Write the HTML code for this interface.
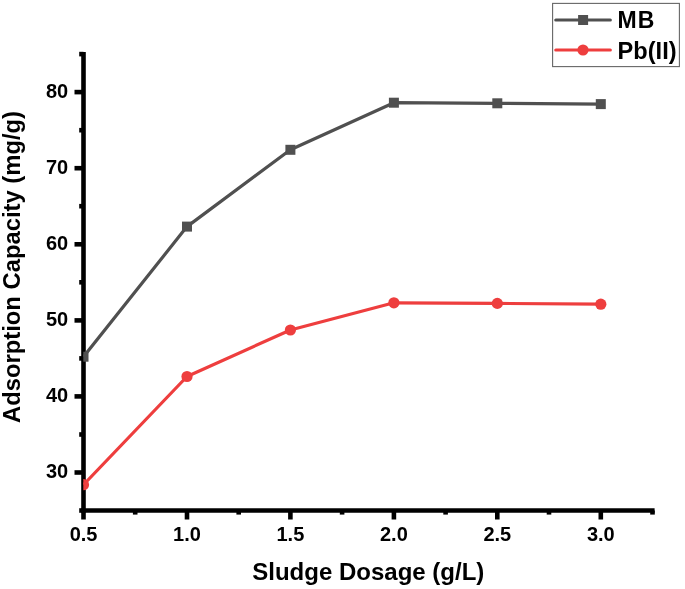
<!DOCTYPE html>
<html>
<head>
<meta charset="utf-8">
<style>
html,body{margin:0;padding:0;background:#fff;}
body{width:685px;height:589px;overflow:hidden;}
svg{display:block;}
text{font-family:"Liberation Sans",Arial,sans-serif;font-weight:bold;fill:#000;}
.tk{font-size:20px;}
.ttl{font-size:24px;}
.lg{font-size:23.6px;}
</style>
</head>
<body>
<svg width="685" height="589" viewBox="0 0 685 589">
  <defs>
    <clipPath id="plot"><rect x="83.3" y="0" width="600" height="510.4"/></clipPath>
  </defs>
  <!-- axes -->
  <g stroke="#000" stroke-width="4.6" fill="none">
    <line x1="83.5" y1="52" x2="83.5" y2="512.6"/>
    <line x1="81.3" y1="510.5" x2="654.6" y2="510.5"/>
    <!-- y major ticks -->
    <line x1="74.5" y1="92.1" x2="83.5" y2="92.1"/>
    <line x1="74.5" y1="168.2" x2="83.5" y2="168.2"/>
    <line x1="74.5" y1="244.3" x2="83.5" y2="244.3"/>
    <line x1="74.5" y1="320.4" x2="83.5" y2="320.4"/>
    <line x1="74.5" y1="396.4" x2="83.5" y2="396.4"/>
    <line x1="74.5" y1="472.5" x2="83.5" y2="472.5"/>
    <!-- y minor ticks -->
    <line x1="79.2" y1="54.1" x2="83.5" y2="54.1"/>
    <line x1="79.2" y1="130.2" x2="83.5" y2="130.2"/>
    <line x1="79.2" y1="206.2" x2="83.5" y2="206.2"/>
    <line x1="79.2" y1="282.3" x2="83.5" y2="282.3"/>
    <line x1="79.2" y1="358.4" x2="83.5" y2="358.4"/>
    <line x1="79.2" y1="434.5" x2="83.5" y2="434.5"/>
    <line x1="79.2" y1="510.5" x2="83.5" y2="510.5"/>
    <!-- x major ticks -->
    <line x1="83.5" y1="510.5" x2="83.5" y2="519.5"/>
    <line x1="187" y1="510.5" x2="187" y2="519.5"/>
    <line x1="290.4" y1="510.5" x2="290.4" y2="519.5"/>
    <line x1="393.9" y1="510.5" x2="393.9" y2="519.5"/>
    <line x1="497.3" y1="510.5" x2="497.3" y2="519.5"/>
    <line x1="600.8" y1="510.5" x2="600.8" y2="519.5"/>
    <!-- x minor ticks -->
    <line x1="135.2" y1="510.5" x2="135.2" y2="514.6"/>
    <line x1="238.7" y1="510.5" x2="238.7" y2="514.6"/>
    <line x1="342.1" y1="510.5" x2="342.1" y2="514.6"/>
    <line x1="445.6" y1="510.5" x2="445.6" y2="514.6"/>
    <line x1="549" y1="510.5" x2="549" y2="514.6"/>
    <line x1="652.5" y1="510.5" x2="652.5" y2="514.6"/>
  </g>
  <!-- y tick labels -->
  <g class="tk" text-anchor="end">
    <text x="68.2" y="97.9">80</text>
    <text x="68.2" y="174.0">70</text>
    <text x="68.2" y="250.1">60</text>
    <text x="68.2" y="326.2">50</text>
    <text x="68.2" y="402.2">40</text>
    <text x="68.2" y="478.3">30</text>
  </g>
  <!-- x tick labels -->
  <g class="tk" text-anchor="middle">
    <text x="83.6" y="541">0.5</text>
    <text x="187" y="541">1.0</text>
    <text x="290.4" y="541">1.5</text>
    <text x="393.9" y="541">2.0</text>
    <text x="497.3" y="541">2.5</text>
    <text x="600.8" y="541">3.0</text>
  </g>
  <!-- titles -->
  <text class="ttl" x="368.3" y="580" text-anchor="middle">Sludge Dosage (g/L)</text>
  <text class="ttl" style="font-size:23.8px" transform="translate(20.3,267) rotate(-90)" text-anchor="middle">Adsorption Capacity (mg/g)</text>
  <!-- data -->
  <g clip-path="url(#plot)">
    <polyline fill="none" stroke="#505050" stroke-width="3.2" stroke-linejoin="round"
      points="83.5,356.7 187,226.6 290.4,149.8 393.9,102.7 497.3,103.3 600.8,104.1"/>
    <g fill="#505050">
      <rect x="78.5" y="351.7" width="10" height="10"/>
      <rect x="182" y="221.6" width="10" height="10"/>
      <rect x="285.4" y="144.8" width="10" height="10"/>
      <rect x="388.9" y="97.7" width="10" height="10"/>
      <rect x="492.3" y="98.3" width="10" height="10"/>
      <rect x="595.8" y="99.1" width="10" height="10"/>
    </g>
    <polyline fill="none" stroke="#ee3e3e" stroke-width="3.2" stroke-linejoin="round"
      points="83.5,484.7 187,376.5 290.4,330 393.9,302.8 497.3,303.4 600.8,304.2"/>
    <g fill="#ee3e3e">
      <circle cx="83.5" cy="484.7" r="5.6"/>
      <circle cx="187" cy="376.5" r="5.6"/>
      <circle cx="290.4" cy="330" r="5.6"/>
      <circle cx="393.9" cy="302.8" r="5.6"/>
      <circle cx="497.3" cy="303.4" r="5.6"/>
      <circle cx="600.8" cy="304.2" r="5.6"/>
    </g>
  </g>
  <!-- legend -->
  <rect x="552.6" y="3.4" width="126.8" height="63.2" fill="none" stroke="#666" stroke-width="1.1"/>
  <line x1="555.8" y1="20" x2="610.3" y2="20" stroke="#505050" stroke-width="3.2" stroke-linecap="round"/>
  <rect x="578.1" y="15" width="10" height="10" fill="#505050"/>
  <line x1="555.8" y1="50" x2="610.3" y2="50" stroke="#ee3e3e" stroke-width="3.2" stroke-linecap="round"/>
  <circle cx="583" cy="50" r="5.6" fill="#ee3e3e"/>
  <text class="lg" x="617.6" y="28.4" style="font-size:23px;letter-spacing:1px">MB</text>
  <text class="lg" x="617.6" y="58.6">Pb(II)</text>
</svg>
</body>
</html>
